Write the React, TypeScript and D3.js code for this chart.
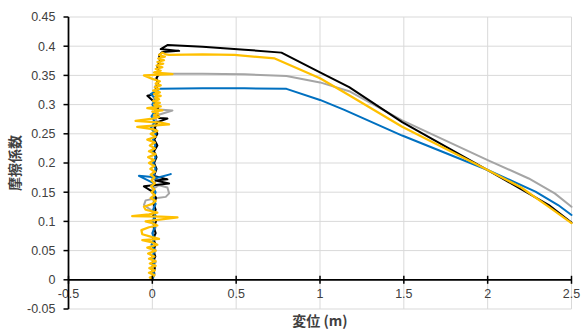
import React from 'react';
import * as d3 from 'd3';

// x = 変位 (m), y = 摩擦係数
const blackData: [number, number][] = [
  [0, 0], [0.005, 0.01], [0.015, 0.02], [0.002, 0.03], [0.018, 0.04], [0.005, 0.05], [0.02, 0.06],
  [0.005, 0.07], [0.02, 0.08], [0.008, 0.09], [0.022, 0.1], [0.005, 0.11], [0.02, 0.12], [0.008, 0.13],
  [0.022, 0.14], [0.005, 0.15], [-0.05, 0.16], [0.1, 0.165], [0.02, 0.17], [0.09, 0.172], [0.01, 0.178],
  [0.025, 0.19], [0.01, 0.2], [0.025, 0.21], [0.01, 0.22], [0.03, 0.23], [0.012, 0.24], [0.03, 0.25],
  [0.015, 0.26], [0.03, 0.27], [0.09, 0.276], [0.04, 0.277], [0.02, 0.285], [0.035, 0.295], [0.01, 0.305],
  [-0.03, 0.315], [0.0, 0.317], [0.02, 0.325], [0.035, 0.335], [0.025, 0.345], [0.04, 0.355], [0.03, 0.365],
  [0.045, 0.375], [0.04, 0.385], [0.06, 0.39], [0.16, 0.392], [0.05, 0.395], [0.09, 0.402],
  [0.3, 0.399], [0.55, 0.394], [0.77, 0.389], [1.0, 0.355], [1.174, 0.33], [1.49, 0.27], [2.0, 0.188],
  [2.365, 0.128], [2.5, 0.098],
];

const grayData: [number, number][] = [
  [0, 0], [0.015, 0.01], [0.0, 0.02], [0.02, 0.03], [0.005, 0.04], [0.02, 0.05], [0.0, 0.06], [0.018, 0.07],
  [0.003, 0.08], [0.02, 0.09], [0.0, 0.1], [0.02, 0.11], [-0.01, 0.12], [-0.05, 0.128], [-0.04, 0.136],
  [0.03, 0.14], [0.08, 0.142], [0.1, 0.148], [0.09, 0.158], [0.04, 0.162], [0.0, 0.155], [0.02, 0.17],
  [0.005, 0.18], [0.02, 0.19], [0.0, 0.2], [0.02, 0.21], [0.005, 0.22], [0.025, 0.23], [0.005, 0.24],
  [0.025, 0.25], [0.005, 0.26], [0.03, 0.27], [0.01, 0.28], [0.12, 0.29], [0.02, 0.292], [0.03, 0.3],
  [0.01, 0.31], [0.03, 0.32], [0.015, 0.33], [0.035, 0.34], [0.02, 0.345], [0.05, 0.353],
  [0.3, 0.353], [0.55, 0.352], [0.8, 0.349], [1.0, 0.338], [1.174, 0.323], [1.49, 0.273], [2.0, 0.205],
  [2.245, 0.1735], [2.4, 0.148], [2.5, 0.125],
];

const blueData: [number, number][] = [
  [0, 0], [0.01, 0.01], [-0.005, 0.02], [0.012, 0.03], [0.0, 0.04], [0.015, 0.05], [-0.005, 0.06],
  [0.012, 0.07], [0.0, 0.08], [0.015, 0.09], [0.002, 0.1], [0.018, 0.11], [0.005, 0.12], [0.02, 0.13],
  [0.005, 0.14], [0.02, 0.15], [0.0, 0.16], [0.01, 0.165], [-0.08, 0.178], [0.03, 0.175], [0.11, 0.181],
  [0.0, 0.172], [0.02, 0.19], [0.005, 0.2], [0.02, 0.21], [0.0, 0.22], [0.018, 0.23], [0.005, 0.24],
  [0.02, 0.25], [-0.01, 0.26], [0.015, 0.27], [-0.005, 0.28], [0.02, 0.29], [0.0, 0.3], [0.02, 0.31],
  [-0.01, 0.318], [0.03, 0.325], [0.045, 0.327],
  [0.3, 0.328], [0.55, 0.328], [0.8, 0.327], [1.0, 0.308], [1.145, 0.291], [1.49, 0.247], [2.0, 0.188],
  [2.285, 0.151], [2.42, 0.128], [2.5, 0.111],
];

const orangeData: [number, number][] = [
  [0, 0], [-0.015, 0.004], [0.012, 0.008], [-0.02, 0.012], [0.015, 0.016], [-0.018, 0.02], [0.02, 0.024],
  [-0.015, 0.028], [0.02, 0.032], [-0.02, 0.036], [0.012, 0.04], [-0.025, 0.045], [0.02, 0.05],
  [-0.03, 0.055], [0.03, 0.06], [0.0, 0.064], [-0.06, 0.068], [0.04, 0.07], [0.0, 0.073], [-0.06, 0.078],
  [-0.065, 0.085], [-0.02, 0.09], [0.03, 0.093], [0.0, 0.097], [-0.04, 0.1], [0.15, 0.107], [0.05, 0.108],
  [-0.12, 0.109], [-0.02, 0.112], [0.03, 0.115], [-0.04, 0.12], [-0.05, 0.125], [0.0, 0.13], [0.02, 0.135],
  [-0.01, 0.14], [0.015, 0.145], [-0.005, 0.15], [0.012, 0.155], [-0.008, 0.16], [0.015, 0.165],
  [-0.005, 0.17], [0.012, 0.175], [-0.01, 0.18], [0.015, 0.185], [-0.012, 0.19], [0.012, 0.195],
  [-0.02, 0.2], [0.01, 0.205], [-0.025, 0.21], [0.02, 0.215], [-0.02, 0.22], [0.015, 0.225], [-0.015, 0.23],
  [0.015, 0.235], [-0.03, 0.24], [0.02, 0.245], [-0.01, 0.25], [0.03, 0.255], [0.0, 0.258],
  [-0.09, 0.262], [0.1, 0.266], [0.05, 0.269], [-0.1, 0.272], [0.0, 0.276], [0.04, 0.279], [0.01, 0.282],
  [0.035, 0.285], [0.0, 0.288], [0.06, 0.29], [-0.03, 0.294], [0.05, 0.297], [0.01, 0.3], [0.045, 0.303],
  [0.005, 0.306], [0.04, 0.309], [0.015, 0.312], [0.05, 0.315], [0.01, 0.318], [0.045, 0.321],
  [0.005, 0.324], [0.04, 0.327], [0.015, 0.33], [0.05, 0.333], [0.02, 0.336], [0.045, 0.34], [0.0, 0.344],
  [-0.05, 0.35], [0.12, 0.352], [0.01, 0.355], [0.05, 0.358], [0.02, 0.361], [0.06, 0.364], [0.025, 0.367],
  [0.065, 0.37], [0.03, 0.373], [0.07, 0.376], [0.035, 0.379], [0.075, 0.382], [0.04, 0.385],
  [0.06, 0.389], [0.08, 0.386],
  [0.1, 0.385], [0.3, 0.386], [0.49, 0.385], [0.73, 0.379], [1.0, 0.345], [1.174, 0.316], [1.49, 0.262],
  [2.0, 0.188], [2.2, 0.158], [2.365, 0.125], [2.5, 0.097],
];

const xTicks = [-0.5, 0, 0.5, 1, 1.5, 2, 2.5];
const yTicks = [-0.05, 0, 0.05, 0.1, 0.15, 0.2, 0.25, 0.3, 0.35, 0.4, 0.45];

const series = [
  { name: 'gray', color: '#A5A5A5', data: grayData, width: 2 },
  { name: 'black', color: '#000000', data: blackData, width: 2 },
  { name: 'blue', color: '#0070C0', data: blueData, width: 2 },
  { name: 'orange', color: '#FFC000', data: orangeData, width: 2.25 },
];

const W = 581;
const H = 329;
const left = 68.5;
const right = 571.5;
const top = 17;
const bottom = 309;

export default function App() {
  const x = d3.scaleLinear().domain([-0.5, 2.5]).range([left, right]);
  const y = d3.scaleLinear().domain([-0.05, 0.45]).range([bottom, top]);
  const line = d3.line<[number, number]>()
    .x(d => x(d[0]))
    .y(d => y(d[1]));
  const font = "'Liberation Sans', Arial, sans-serif";
  const cjk = "'Noto Sans CJK JP', sans-serif";

  return (
    <div style={{ position: 'absolute', left: 0, top: 0 }}>
      <svg width={W} height={H} style={{ display: 'block', background: '#fff' }}>
        {/* gridlines */}
        {yTicks.map(t => (
          <line key={'gy' + t} x1={left} x2={right} y1={y(t)} y2={y(t)} stroke="#d9d9d9" strokeWidth={1} />
        ))}
        {xTicks.slice(1).map(t => (
          <line key={'gx' + t} x1={x(t)} x2={x(t)} y1={top} y2={bottom} stroke="#d9d9d9" strokeWidth={1} />
        ))}

        {/* series */}
        {series.map(s => (
          <path key={s.name} d={line(s.data) || ''} fill="none" stroke={s.color}
            strokeWidth={s.width} strokeLinejoin="round" strokeLinecap="round" />
        ))}

        {/* x axis at y = 0 */}
        <line x1={left} x2={right} y1={y(0)} y2={y(0)} stroke="#000" strokeWidth={1.75} />
        {xTicks.map(t => (
          <g key={'xt' + t}>
            <line x1={x(t)} x2={x(t)} y1={y(0) - 4} y2={y(0) + 4} stroke="#000" strokeWidth={1.5} />
            <text x={x(t)} y={y(0) + 18} textAnchor="middle" fontFamily={font} fontSize={12.5} fill="#404040">
              {t}
            </text>
          </g>
        ))}

        {/* y axis at x = -0.5 */}
        <line x1={left} x2={left} y1={top} y2={bottom} stroke="#000" strokeWidth={1.75} />
        {yTicks.map(t => (
          <g key={'yt' + t}>
            <line x1={left - 5} x2={left} y1={y(t)} y2={y(t)} stroke="#000" strokeWidth={1.5} />
            <text x={left - 13} y={y(t)} dy="0.35em" textAnchor="end" fontFamily={font} fontSize={12.5} fill="#404040">
              {t}
            </text>
          </g>
        ))}

        {/* axis titles */}
        <text x={(left + right) / 2} y={326} textAnchor="middle" fontFamily={cjk} fontSize={14}
          fontWeight="bold" fill="#404040">変位 (m)</text>
        <text transform={`translate(20,${(top + bottom) / 2}) rotate(-90)`} textAnchor="middle"
          fontFamily={cjk} fontSize={14} fontWeight="bold" fill="#404040">摩擦係数</text>
      </svg>
    </div>
  );
}
